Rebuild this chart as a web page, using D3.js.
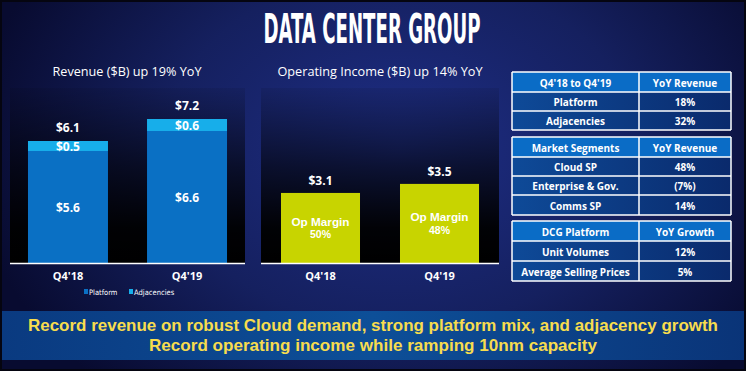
<!DOCTYPE html>
<html><head><meta charset="utf-8">
<script src="https://cdn.jsdelivr.net/npm/d3@7"></script>
<style>
html,body{margin:0;padding:0;background:#0a0d30;}
svg{display:block;}
text{font-family:"Open Sans","Noto Sans",sans-serif;}
</style></head>
<body>
<script>
// ---- data ----
const quarters = ["Q4'18", "Q4'19"];
const platform = [5.6, 6.6];
const adjacencies = [0.5, 0.6];
const revenueTotal = [6.1, 7.2];
const opIncome = [3.1, 3.5];
const opMargin = ["50%", "48%"];
const seriesNames = ["Platform", "Adjacencies"];

const mainTitle = "DATA CENTER GROUP";
const revTitle = "Revenue ($B) up 19% YoY";
const opTitle = "Operating Income ($B) up 14% YoY";

const table1Header = ["Q4'18 to Q4'19", "YoY Revenue"];
const table1Rows = ["Platform", "Adjacencies"];
const table1Vals = ["18%", "32%"];
const table2Header = ["Market Segments", "YoY Revenue"];
const table2Rows = ["Cloud SP", "Enterprise & Gov.", "Comms SP"];
const table2Vals = ["48%", "(7%)", "14%"];
const table3Header = ["DCG Platform", "YoY Growth"];
const table3Rows = ["Unit Volumes", "Average Selling Prices"];
const table3Vals = ["12%", "5%"];

const banner = [
  "Record revenue on robust Cloud demand, strong platform mix, and adjacency growth",
  "Record operating income while ramping 10nm capacity"
];

// ---- drawing ----
const W = 746, H = 371;
const svg = d3.select("body").append("svg").attr("width", W).attr("height", H);
const defs = svg.append("defs");

const bg = defs.append("radialGradient").attr("id", "bg")
  .attr("gradientUnits", "userSpaceOnUse").attr("cx", 400).attr("cy", 150).attr("r", 430)
  .attr("gradientTransform", "translate(400,150) scale(1,0.75) translate(-400,-150)");
bg.append("stop").attr("offset", "0").attr("stop-color", "#1e2e86");
bg.append("stop").attr("offset", "0.55").attr("stop-color", "#15205f");
bg.append("stop").attr("offset", "1").attr("stop-color", "#080b30");

const pg = defs.append("linearGradient").attr("id", "panel").attr("x1", 0).attr("y1", 0).attr("x2", 0).attr("y2", 1);
pg.append("stop").attr("offset", "0").attr("stop-color", "#000").attr("stop-opacity", 0.08);
pg.append("stop").attr("offset", "0.45").attr("stop-color", "#000").attr("stop-opacity", 0.6);
pg.append("stop").attr("offset", "0.8").attr("stop-color", "#000").attr("stop-opacity", 0.95);
pg.append("stop").attr("offset", "1").attr("stop-color", "#000").attr("stop-opacity", 1);

const bn = defs.append("linearGradient").attr("id", "banner").attr("x1", 0).attr("y1", 0).attr("x2", 1).attr("y2", 0);
bn.append("stop").attr("offset", "0").attr("stop-color", "#0a3a80");
bn.append("stop").attr("offset", "0.5").attr("stop-color", "#0d4f98");
bn.append("stop").attr("offset", "1").attr("stop-color", "#0a3478");

const rowG = defs.append("linearGradient").attr("id", "row").attr("x1", 0).attr("y1", 0).attr("x2", 1).attr("y2", 0);
rowG.append("stop").attr("offset", "0").attr("stop-color", "#0e4a98");
rowG.append("stop").attr("offset", "1").attr("stop-color", "#0a2a6c");

svg.append("rect").attr("width", W).attr("height", H).attr("fill", "#050510");
svg.append("rect").attr("x", 2).attr("y", 2).attr("width", W - 4).attr("height", H - 4).attr("fill", "url(#bg)");

// main title
svg.append("text").attr("x", 372).attr("y", 43).attr("text-anchor", "middle")
  .attr("fill", "#fff").attr("font-size", 40).attr("font-weight", "bold")
  .style("font-family", "'Liberation Sans Narrow','DejaVu Sans Condensed',sans-serif")
  .attr("textLength", 217).attr("lengthAdjust", "spacingAndGlyphs")
  .text(mainTitle);

// ---- Revenue chart ----
const x1 = d3.scaleBand().domain(quarters).range([10, 245]).paddingInner(0.328).paddingOuter(0.151);
const y1 = d3.scaleLinear().domain([0, 8]).range([263, 103]);
svg.append("rect").attr("x", 10).attr("y", 88).attr("width", 235).attr("height", 175).attr("fill", "url(#panel)");
svg.append("text").attr("x", 127).attr("y", 76).attr("text-anchor", "middle").attr("fill", "#fff")
  .attr("font-size", 13).attr("textLength", 149).attr("lengthAdjust", "spacingAndGlyphs").text(revTitle);

const colPlat = "#0a70c4", colAdj = "#17aeea", colOp = "#c8d400";
const revG = svg.append("g");
revG.selectAll("rect.plat").data(quarters).join("rect").attr("class", "plat")
  .attr("x", d => x1(d)).attr("width", x1.bandwidth())
  .attr("y", (d, i) => y1(platform[i])).attr("height", (d, i) => y1(0) - y1(platform[i]))
  .attr("fill", colPlat);
revG.selectAll("rect.adj").data(quarters).join("rect").attr("class", "adj")
  .attr("x", d => x1(d)).attr("width", x1.bandwidth())
  .attr("y", (d, i) => y1(platform[i] + adjacencies[i])).attr("height", (d, i) => y1(platform[i]) - y1(platform[i] + adjacencies[i]))
  .attr("fill", colAdj);
const lbl = (g, x, y, t, size) => g.append("text").attr("x", x).attr("y", y).attr("text-anchor", "middle")
  .attr("dominant-baseline", "central").attr("fill", "#fff").attr("font-size", size || 12).attr("font-weight", "bold").text(t);
quarters.forEach((q, i) => {
  const cx = x1(q) + x1.bandwidth() / 2;
  lbl(revG, cx, (y1(0) + y1(platform[i])) / 2, "$" + platform[i].toFixed(1));
  lbl(revG, cx, (y1(platform[i]) + y1(platform[i] + adjacencies[i])) / 2, "$" + adjacencies[i].toFixed(1));
  lbl(revG, cx, y1(revenueTotal[i]) - 14, "$" + revenueTotal[i].toFixed(1));
});
revG.append("line").attr("x1", 10).attr("x2", 245).attr("y1", 263.5).attr("y2", 263.5).attr("stroke", "#fff").attr("stroke-width", 1.5);
const ax1 = revG.append("g").attr("transform", "translate(0,263)")
  .call(d3.axisBottom(x1).tickSize(0).tickPadding(9));
ax1.select(".domain").remove();
ax1.selectAll("text").attr("fill", "#fff").attr("font-size", 11).attr("font-weight", "bold").style("font-family", "'Open Sans',sans-serif");

// legend
const lg = svg.append("g").attr("transform", "translate(84,292)");
[["Platform", colPlat, 0], ["Adjacencies", colAdj, 45]].forEach(([n, c, dx], i) => {
  lg.append("rect").attr("x", dx).attr("y", -3).attr("width", 4).attr("height", 5).attr("fill", c);
  lg.append("text").attr("x", dx + 5).attr("y", 0).attr("dominant-baseline", "central")
    .attr("fill", "#fff").attr("font-size", 7.5).style("font-family", "'Liberation Sans Narrow','DejaVu Sans Condensed',sans-serif")
    .text(seriesNames[i]);
});

// ---- Operating income chart ----
const x2 = d3.scaleBand().domain(quarters).range([261, 499]).paddingInner(0.336).paddingOuter(0.168);
const y2 = d3.scaleLinear().domain([0, 7]).range([263, 104.8]);
svg.append("rect").attr("x", 261).attr("y", 88).attr("width", 238).attr("height", 175).attr("fill", "url(#panel)");
svg.append("text").attr("x", 380).attr("y", 76).attr("text-anchor", "middle").attr("fill", "#fff")
  .attr("font-size", 13).attr("textLength", 205).attr("lengthAdjust", "spacingAndGlyphs").text(opTitle);
const opG = svg.append("g");
opG.selectAll("rect").data(quarters).join("rect")
  .attr("x", d => x2(d)).attr("width", x2.bandwidth())
  .attr("y", (d, i) => y2(opIncome[i])).attr("height", (d, i) => y2(0) - y2(opIncome[i]))
  .attr("fill", colOp);
quarters.forEach((q, i) => {
  const cx = x2(q) + x2.bandwidth() / 2;
  const mid = (y2(0) + y2(opIncome[i])) / 2;
  lbl(opG, cx, y2(opIncome[i]) - 12, "$" + opIncome[i].toFixed(1));
  const t = opG.append("text").attr("text-anchor", "middle").attr("fill", "#fff")
    .attr("font-size", 10.5).attr("font-weight", "bold")
    .style("font-family", "'Liberation Sans',Arial,sans-serif");
  t.append("tspan").attr("x", cx).attr("y", mid - 2).attr("textLength", 58).attr("lengthAdjust", "spacingAndGlyphs").text("Op Margin");
  t.append("tspan").attr("x", cx).attr("y", mid + 10.5).text(opMargin[i]);
});
opG.append("line").attr("x1", 261).attr("x2", 499).attr("y1", 263.5).attr("y2", 263.5).attr("stroke", "#fff").attr("stroke-width", 1.5);
const ax2 = opG.append("g").attr("transform", "translate(0,263)")
  .call(d3.axisBottom(x2).tickSize(0).tickPadding(9));
ax2.select(".domain").remove();
ax2.selectAll("text").attr("fill", "#fff").attr("font-size", 11).attr("font-weight", "bold").style("font-family", "'Open Sans',sans-serif");

// ---- tables ----
function drawTable(top, header, rows, vals, rowHs) {
  const g = svg.append("g");
  const xl = 512, xm = 639, xr = 731;
  const hs = [rowHs[0]].concat(rows.map((r, i) => rowHs[i + 1]));
  let y = top;
  const ys = [];
  hs.forEach(h => { ys.push(y); y += h; });
  const cells = [header].concat(rows.map((r, i) => [r, vals[i]]));
  cells.forEach((c, i) => {
    g.append("rect").attr("x", xl).attr("y", ys[i]).attr("width", xr - xl).attr("height", hs[i])
      .attr("fill", i === 0 ? "#0a6cc6" : "url(#row)");
    g.append("text").attr("x", (xl + xm) / 2).attr("y", ys[i] + hs[i] / 2 + 0.5).attr("text-anchor", "middle")
      .attr("dominant-baseline", "central").attr("fill", "#fff").attr("font-size", 10).attr("font-weight", "bold").text(c[0]);
    g.append("text").attr("x", (xm + xr) / 2).attr("y", ys[i] + hs[i] / 2 + 0.5).attr("text-anchor", "middle")
      .attr("dominant-baseline", "central").attr("fill", "#fff").attr("font-size", 10).attr("font-weight", "bold").text(c[1]);
  });
  const bottom = y;
  ys.concat([bottom]).forEach(yy => g.append("line").attr("x1", xl).attr("x2", xr).attr("y1", yy).attr("y2", yy)
    .attr("stroke", "#fff").attr("stroke-width", 1.5));
  [xl, xm, xr].forEach(xx => g.append("line").attr("x1", xx).attr("x2", xx).attr("y1", top).attr("y2", bottom)
    .attr("stroke", "#fff").attr("stroke-width", 1.5));
}
drawTable(72, table1Header, table1Rows, table1Vals, [20, 19, 19]);
drawTable(137, table2Header, table2Rows, table2Vals, [20, 19, 19, 20]);
drawTable(221, table3Header, table3Rows, table3Vals, [20, 20, 20]);

// ---- banner ----
svg.append("rect").attr("x", 2).attr("y", 311).attr("width", W - 4).attr("height", 49).attr("fill", "url(#banner)");
const bt = svg.append("text").attr("text-anchor", "middle")
  .attr("fill", "#f7dc4e").attr("font-size", 16.5).attr("font-weight", "bold")
  .style("font-family", "'Liberation Sans',Arial,sans-serif");
banner.forEach((t, i) => {
  bt.append("tspan").attr("x", 373).attr("y", 331 + i * 20)
    .attr("textLength", i === 0 ? 690 : 448).attr("lengthAdjust", "spacingAndGlyphs")
    .text(t);
});
</script>
</body></html>
